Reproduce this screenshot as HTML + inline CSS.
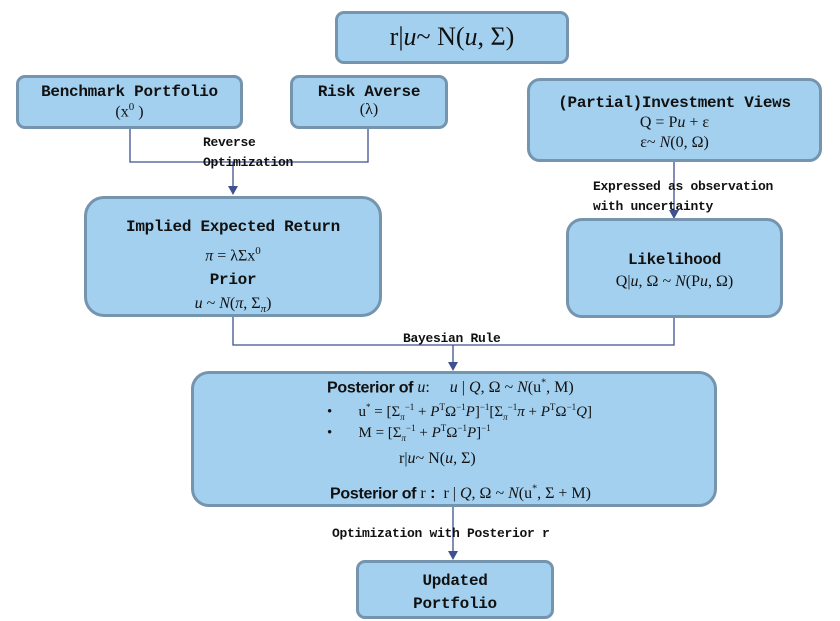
<!DOCTYPE html>
<html><head><meta charset="utf-8"><style>
body{margin:0;width:840px;height:621px;background:#fff;position:relative;overflow:hidden}
.b{position:absolute;box-sizing:border-box;background:#a3d0ef;border:3px solid #7594ae;text-align:center;color:#111}
.t{font-family:"Liberation Mono","Noto Sans CJK SC",monospace;font-weight:bold;font-size:16px;letter-spacing:-0.3px}
.m{font-family:"Liberation Serif",serif;font-size:16px}
.l{position:absolute;font-family:"Liberation Mono",monospace;font-weight:bold;font-size:13px;color:#111;white-space:nowrap;letter-spacing:-0.3px}
i{font-style:italic}
</style></head><body>
<svg width="840" height="621" style="position:absolute;left:0;top:0">
<g stroke="#3f5190" stroke-width="1.3" fill="none">
<path d="M130 128V162H368V128"/><path d="M233 162V188"/>
<path d="M233 316V345H674V316"/><path d="M453 345V363"/>
<path d="M674 162V211"/>
<path d="M453 440V472"/><path d="M453 506V552"/>
</g>
<g fill="#3f5190">
<path d="M228 186h10l-5 9z"/><path d="M448 362h10l-5 9z"/><path d="M669 210h10l-5 9z"/><path d="M448 472h10l-5 9z"/><path d="M448 551h10l-5 9z"/>
</g></svg>
<div class="b" style="left:335px;top:11px;width:234px;height:53px;border-radius:9px;line-height:46px"><span class="m" style="font-size:26px">r|<i>u</i>~ N(<i>u</i>, Σ)</span></div>
<div class="b" style="left:16px;top:75px;width:227px;height:54px;border-radius:9px;padding-top:5px"><div class="t">Benchmark Portfolio</div><div class="m">(x<sup style="font-size:11px">0</sup> )</div></div>
<div class="b" style="left:290px;top:75px;width:158px;height:54px;border-radius:9px;padding-top:5px"><div class="t">Risk Averse</div><div class="m">(λ)</div></div>
<div class="b" style="left:527px;top:78px;width:295px;height:84px;border-radius:13px;padding-top:12px;line-height:20px"><div class="t">(Partial)Investment Views</div><div class="m">Q = P<i>u</i> + ε</div><div class="m">ε~ <i>N</i>(0, Ω)</div></div>
<div class="b" style="left:84px;top:196px;width:298px;height:121px;border-radius:20px;padding-top:16px;line-height:24px"><div class="t">Implied Expected Return</div><div class="m"><i>π</i> = λΣx<sup style="font-size:11px">0</sup></div><div class="t">Prior</div><div class="m"><i>u</i> ~ <i>N</i>(<i>π</i>, Σ<sub style="font-size:11px"><i>π</i></sub>)</div></div>
<div class="b" style="left:566px;top:218px;width:217px;height:100px;border-radius:16px;padding-top:28px;line-height:22px"><div class="t">Likelihood</div><div class="m">Q|<i>u</i>, Ω ~ <i>N</i>(P<i>u</i>, Ω)</div></div>
<div class="b" style="left:191px;top:371px;width:526px;height:136px;border-radius:18px;text-align:left">
<div style="position:absolute;left:133px;top:4px;white-space:nowrap"><span class="t" style="font-family:'Liberation Sans',sans-serif">Posterior of </span><span class="m"><i>u</i>:&nbsp;&nbsp;&nbsp;&nbsp; <i>u</i> | <i>Q</i>, Ω ~ <i>N</i>(u<sup style="font-size:10px">*</sup>, M)</span></div>
<div class="m" style="position:absolute;left:133px;top:28px;white-space:nowrap;font-size:15px">•&nbsp;&nbsp;&nbsp;&nbsp;&nbsp;&nbsp;&nbsp;u<sup style="font-size:9px">*</sup> = [Σ<sub style="font-size:9px"><i>π</i></sub><sup style="font-size:9px">−1</sup> + <i>P</i><sup style="font-size:9px">T</sup>Ω<sup style="font-size:9px">−1</sup><i>P</i>]<sup style="font-size:9px">−1</sup>[Σ<sub style="font-size:9px"><i>π</i></sub><sup style="font-size:9px">−1</sup><i>π</i> + <i>P</i><sup style="font-size:9px">T</sup>Ω<sup style="font-size:9px">−1</sup><i>Q</i>]</div>
<div class="m" style="position:absolute;left:133px;top:49px;white-space:nowrap;font-size:15px">•&nbsp;&nbsp;&nbsp;&nbsp;&nbsp;&nbsp;&nbsp;M = [Σ<sub style="font-size:9px"><i>π</i></sub><sup style="font-size:9px">−1</sup> + <i>P</i><sup style="font-size:9px">T</sup>Ω<sup style="font-size:9px">−1</sup><i>P</i>]<sup style="font-size:9px">−1</sup></div>
<div class="m" style="position:absolute;left:205px;top:76px;white-space:nowrap">r|<i>u</i>~ N(<i>u</i>, Σ)</div>
<div style="position:absolute;left:136px;top:110px;white-space:nowrap"><span class="t" style="font-family:'Liberation Sans',sans-serif">Posterior of </span><span class="m">r<b style="font-family:'Liberation Sans'"> :</b>&nbsp; r | <i>Q</i>, Ω ~ <i>N</i>(u<sup style="font-size:10px">*</sup>, Σ + M)</span></div>
</div>
<div class="b" style="left:356px;top:560px;width:198px;height:59px;border-radius:9px;padding-top:7px;line-height:23px"><div class="t">Updated</div><div class="t">Portfolio</div></div>
<div class="l" style="left:203px;top:135px">Reverse</div>
<div class="l" style="left:203px;top:155px">Optimization</div>
<div class="l" style="left:593px;top:179px">Expressed as observation</div>
<div class="l" style="left:593px;top:199px">with uncertainty</div>
<div class="l" style="left:403px;top:331px">Bayesian Rule</div>
<div class="l" style="left:332px;top:526px">Optimization with Posterior r</div>
</body></html>
